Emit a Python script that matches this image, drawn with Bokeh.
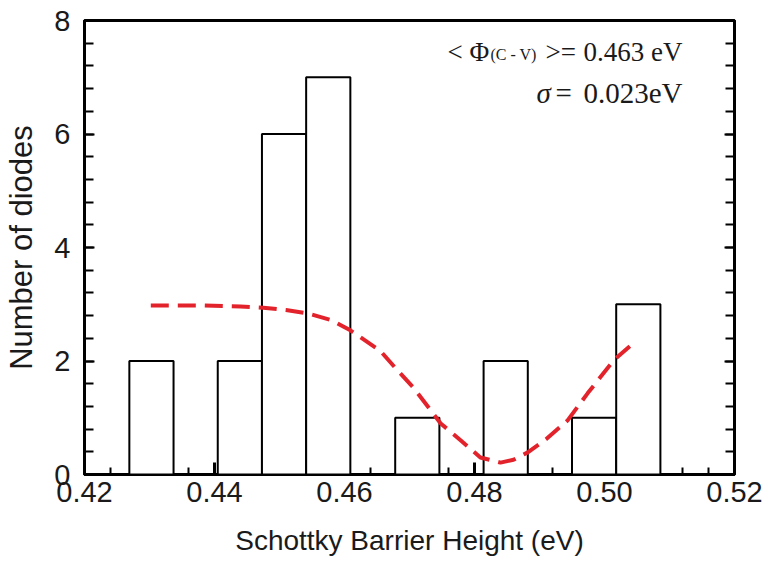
from bokeh.plotting import figure
from bokeh.models import (Range1d, SingleIntervalTicker, LinearAxis, Label,
                          NumeralTickFormatter, CustomJSTickFormatter)
from bokeh.embed import file_html
from bokeh.resources import INLINE

# Histogram data (bin left edges, counts)
bin_lefts = [0.4269, 0.4405, 0.4473, 0.4541, 0.4678, 0.4814, 0.4950, 0.5018]
counts = [2, 2, 6, 7, 1, 2, 1, 3]
bin_width = 0.0068

# Red dashed fit curve
curve_x = [0.4302, 0.4379, 0.4440, 0.4475, 0.4510, 0.4543, 0.4580, 0.4609, 0.4655,
           0.4682, 0.4706, 0.4748, 0.4779, 0.4809, 0.4840, 0.4860, 0.4882, 0.4910,
           0.4943, 0.4974, 0.5014, 0.5047]
curve_y = [2.98, 2.98, 2.96, 2.94, 2.90, 2.84, 2.72, 2.54, 2.18,
           1.83, 1.53, 0.90, 0.60, 0.30, 0.21, 0.26, 0.39, 0.62,
           0.95, 1.43, 2.01, 2.34]

SANS = "Liberation Sans"
SERIF = "Liberation Serif"
TXT = "#1a1a1a"

p = figure(width=765, height=561, output_backend="svg", toolbar_location=None,
           x_range=Range1d(0.42, 0.52), y_range=Range1d(0, 8),
           min_border_left=84, min_border_right=31, min_border_top=20, min_border_bottom=87)
p.grid.visible = False
p.outline_line_color = "black"
p.outline_line_width = 3
p.outline_line_alpha = 1
p.background_fill_color = "white"
p.border_fill_color = "white"

# x axis
xa = p.xaxis[0]
xa.ticker = SingleIntervalTicker(interval=0.02, num_minor_ticks=5)
xa.formatter = NumeralTickFormatter(format="0.00")
xa.axis_line_width = 3
xa.major_tick_in = 12
xa.major_tick_out = 0
xa.major_tick_line_width = 3
xa.minor_tick_in = 7
xa.minor_tick_out = 0
xa.minor_tick_line_width = 2
xa.major_label_text_font = SANS
xa.major_label_text_font_size = "29px"
xa.major_label_text_color = TXT
xa.major_label_standoff = 7
xa.axis_label = "Schottky Barrier Height (eV)"
xa.axis_label_text_font = SANS
xa.axis_label_text_font_size = "28px"
xa.axis_label_text_font_style = "normal"
xa.axis_label_text_color = TXT
xa.axis_label_standoff = 20

# y axis
ya = p.yaxis[0]
ya.ticker = SingleIntervalTicker(interval=2, num_minor_ticks=5)
ya.axis_line_width = 3
ya.major_tick_in = 10
ya.major_tick_out = 0
ya.major_tick_line_width = 2
ya.minor_tick_in = 9
ya.minor_tick_out = 0
ya.minor_tick_line_width = 2
ya.major_label_text_font = SANS
ya.major_label_text_font_size = "29px"
ya.major_label_text_color = TXT
ya.major_label_standoff = 14
ya.axis_label = "Number of diodes"
ya.axis_label_text_font = SANS
ya.axis_label_text_font_size = "31px"
ya.axis_label_text_font_style = "normal"
ya.axis_label_text_color = TXT
ya.axis_label_standoff = 12

# right axis with ticks only
ra = LinearAxis(ticker=SingleIntervalTicker(interval=2, num_minor_ticks=5),
                formatter=CustomJSTickFormatter(code="return ''"))
ra.axis_line_width = 3
ra.major_tick_in = 10
ra.major_tick_out = 0
ra.major_tick_line_width = 2
ra.minor_tick_in = 9
ra.minor_tick_out = 0
ra.minor_tick_line_width = 2
ra.major_label_standoff = 0
p.add_layout(ra, "right")

# bars
rights = [l + bin_width for l in bin_lefts]
p.quad(left=bin_lefts, right=rights, bottom=0, top=counts,
       fill_color="white", line_color="black", line_width=2, level="overlay")

# fit curve
p.line(curve_x, curve_y, line_color="#e3232b", line_width=4, line_dash="18 9",
       line_cap="butt", level="overlay")

# annotations
def lab(x, y, text, size, align="left", style="normal"):
    p.add_layout(Label(x=x, y=y, text=text, text_font=SERIF, text_font_size=size,
                       text_font_style=style, text_color=TXT, text_align=align,
                       text_baseline="alphabetic"))

lab(0.47585, 7.44, "< Φ", "27px")
lab(0.48246, 7.40, "(C - V)", "16px")
lab(0.49092, 7.44, ">=", "27px")
lab(0.5120, 7.44, "0.463 eV", "27px", align="right")
lab(0.48954, 6.73, "σ", "29px", style="italic")
lab(0.49246, 6.73, "=", "29px")
lab(0.5120, 6.73, "0.023eV", "29px", align="right")

open("out.html", "w").write(file_html(p, INLINE))
